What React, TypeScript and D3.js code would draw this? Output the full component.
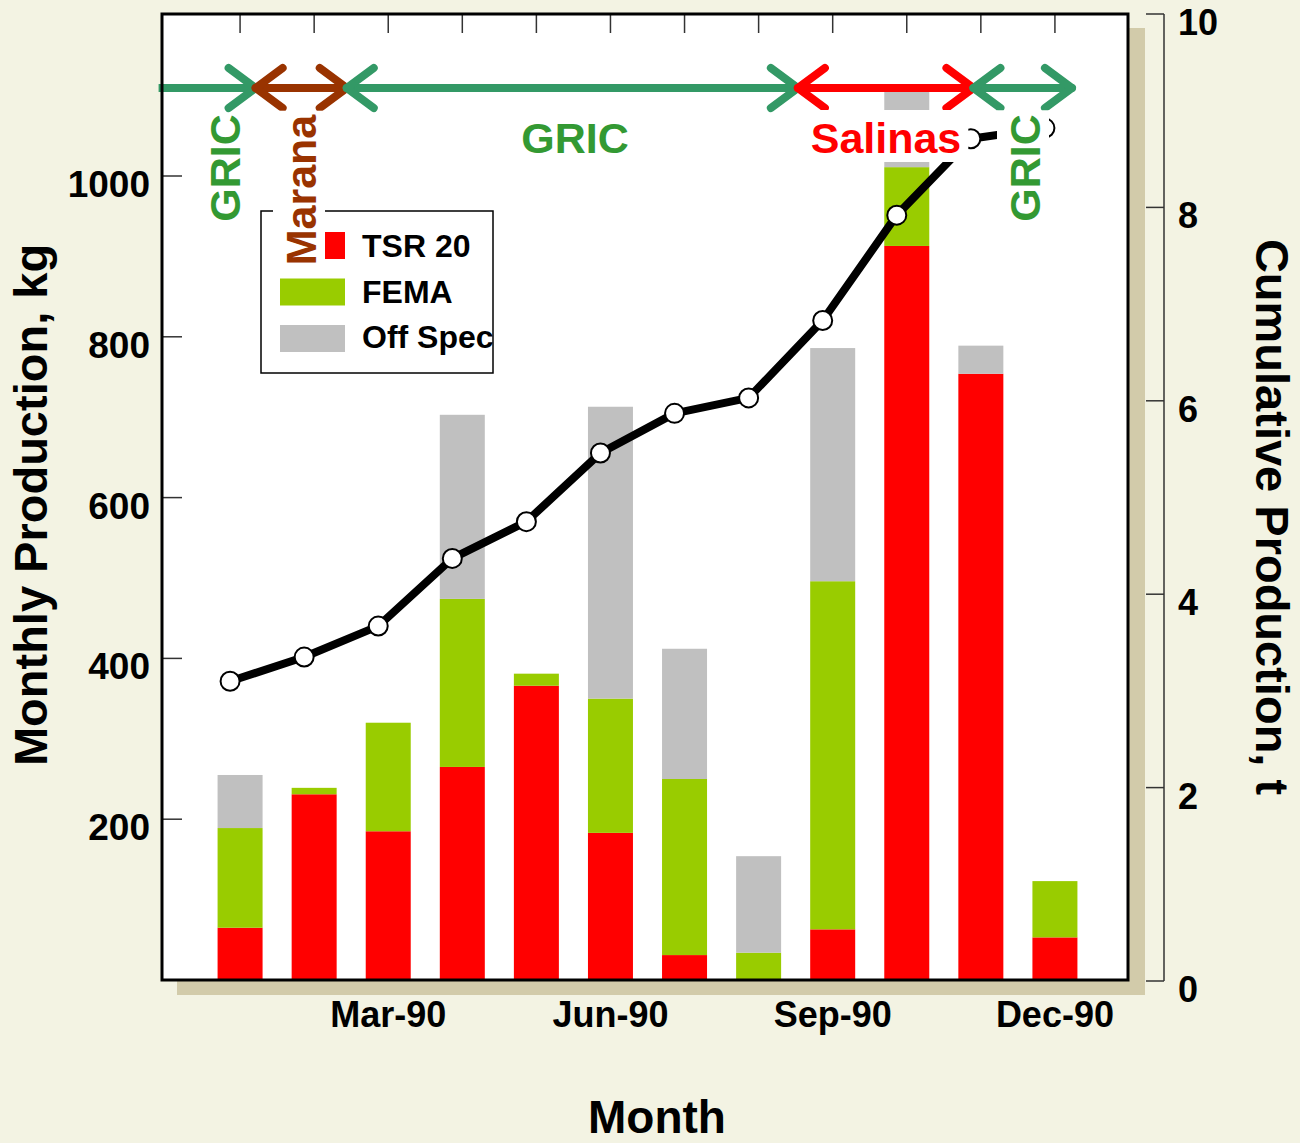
import React, { useEffect, useRef } from "react";
import * as d3 from "d3";

const months = ["Jan-90","Feb-90","Mar-90","Apr-90","May-90","Jun-90","Jul-90","Aug-90","Sep-90","Oct-90","Nov-90","Dec-90"];
const shownMonthLabels = ["Mar-90","Jun-90","Sep-90","Dec-90"];
const tsr20 = [65, 231, 185, 265, 366, 183, 31, 0, 63, 913, 754, 53];
const fema = [124, 8, 135, 209, 15, 167, 219, 34, 433, 98, 0, 70];
const offSpec = [66, 0, 0, 229, 0, 363, 162, 120, 290, 94, 35, 0];
const cumulative = [3.10, 3.35, 3.67, 4.37, 4.75, 5.46, 5.87, 6.03, 6.83, 7.92, 8.71, 8.82];
const leftTicks = [200, 400, 600, 800, 1000];
const rightTicks = [0, 2, 4, 6, 8, 10];
const seriesNames = ["TSR 20", "FEMA", "Off Spec"];
const seriesColors = ["#ff0000", "#99cc00", "#c0c0c0"];
// location periods along the month axis (month units)
const periodNames = ["GRIC", "Marana", "GRIC", "Salinas", "GRIC"];
const periodStart = [-0.1, 1.21, 2.44, 8.53, 10.9];
const periodEnd = [1.21, 2.44, 8.53, 10.9, 12.23];
const periodColors = ["#339966", "#993300", "#339966", "#ff0000", "#339966"];
const periodTextColors = ["#339933", "#993300", "#339933", "#ff0000", "#339933"];

const W = 1300, H = 1143;
const FONT = "'Liberation Sans', Arial, Helvetica, sans-serif";

export default function App() {
  const ref = useRef<SVGSVGElement | null>(null);
  useEffect(() => {
    document.body.style.margin = "0";
    const svg = d3.select(ref.current);
    svg.selectAll("*").remove();

    const plotL = 162, plotR = 1128, plotT = 14, plotB = 980;
    const x = d3.scaleLinear().domain([0, 13]).range([166, 1129]);
    const yL = d3.scaleLinear().domain([0, 1000]).range([980, 176]);
    const yR = d3.scaleLinear().domain([0, 10]).range([981, 14]);

    svg.append("rect").attr("width", W).attr("height", H).attr("fill", "#f3f3e3");
    // shadow
    svg.append("rect").attr("x", plotL + 15).attr("y", plotT + 14)
      .attr("width", plotR - plotL + 2).attr("height", plotB - plotT + 1).attr("fill", "#d2cbaa");
    svg.append("rect").attr("x", plotL).attr("y", plotT)
      .attr("width", plotR - plotL).attr("height", plotB - plotT).attr("fill", "#ffffff");

    // stacked bars
    const rows = months.map((m, i) => ({ m, i, v: [tsr20[i], fema[i], offSpec[i]] }));
    const bw = 45;
    rows.forEach(r => {
      let base = 0;
      r.v.forEach((val, k) => {
        if (val > 0) {
          svg.append("rect")
            .attr("x", x(r.i + 1) - bw / 2)
            .attr("y", yL(base + val))
            .attr("width", bw)
            .attr("height", yL(base) - yL(base + val))
            .attr("fill", seriesColors[k]);
        }
        base += val;
      });
    });

    // top ticks
    months.forEach((m, i) => {
      svg.append("line").attr("x1", x(i + 1)).attr("x2", x(i + 1))
        .attr("y1", plotT).attr("y2", plotT + 19).attr("stroke", "#333").attr("stroke-width", 1.5);
    });
    // left ticks
    leftTicks.forEach(t => {
      svg.append("line").attr("x1", plotL).attr("x2", plotL + 20)
        .attr("y1", yL(t)).attr("y2", yL(t)).attr("stroke", "#333").attr("stroke-width", 1.5);
      svg.append("text").attr("x", 150).attr("y", yL(t) + 21).attr("text-anchor", "end")
        .attr("font-family", FONT).attr("font-weight", "bold").attr("font-size", 37)
        .attr("fill", "#000").text(String(t));
    });

    // cumulative line
    const lx = (i: number) => x(i + 1) - 10;
    const line = d3.line<number>().x((d, i) => lx(i)).y(d => yR(d));
    svg.append("path").attr("d", line(cumulative)!).attr("fill", "none")
      .attr("stroke", "#000").attr("stroke-width", 8).attr("stroke-linejoin", "round");
    cumulative.forEach((c, i) => {
      svg.append("circle").attr("cx", lx(i)).attr("cy", yR(c)).attr("r", 9.5)
        .attr("fill", "#fff").attr("stroke", "#000").attr("stroke-width", 2);
    });

    // period arrows
    const ay = 88, adx = 27, ady = 20;
    periodNames.forEach((p, k) => {
      const x0 = x(periodStart[k]), x1 = x(periodEnd[k]);
      const g = svg.append("g").attr("stroke", periodColors[k]).attr("stroke-width", 8)
        .attr("stroke-linecap", "round").attr("stroke-linejoin", "round").attr("fill", "none");
      g.append("line").attr("x1", x0).attr("x2", x1).attr("y1", ay).attr("y2", ay)
        .attr("stroke-linecap", k === 0 ? "butt" : "round");
      g.append("path").attr("d", `M${x1 - adx},${ay - ady}L${x1},${ay}L${x1 - adx},${ay + ady}`);
      if (k > 0) g.append("path").attr("d", `M${x0 + adx},${ay - ady}L${x0},${ay}L${x0 + adx},${ay + ady}`);
    });

    // legend
    const lg = svg.append("g");
    lg.append("rect").attr("x", 261).attr("y", 211).attr("width", 232).attr("height", 162)
      .attr("fill", "#fff").attr("stroke", "#000").attr("stroke-width", 1.5);
    seriesNames.forEach((s, k) => {
      lg.append("rect").attr("x", 280).attr("y", 232 + k * 46.5).attr("width", 65).attr("height", 27)
        .attr("fill", seriesColors[k]);
      lg.append("text").attr("x", 362).attr("y", 257 + k * 45.5)
        .attr("font-family", FONT).attr("font-weight", "bold").attr("font-size", 32)
        .attr("fill", "#000").text(s);
    });

    // period labels with white boxes
    const labelSpec = [
      { k: 0, rot: true, bx: 240, cy: 168, box: false },
      { k: 1, rot: true, bx: 316, cy: 190, box: true },
      { k: 2, rot: false, cx: 575, by: 153, box: false },
      { k: 3, rot: false, cx: 886, by: 153, box: true },
      { k: 4, rot: true, bx: 1040, cy: 168, box: true },
    ];
    labelSpec.forEach((L: any) => {
      const g = svg.append("g");
      const t = g.append("text").attr("font-family", FONT).attr("font-weight", "bold")
        .attr("font-size", 43).attr("fill", periodTextColors[L.k]).attr("text-anchor", "middle")
        .text(periodNames[L.k]);
      const len = (t.node() as SVGTextElement).getComputedTextLength();
      if (L.rot) {
        t.attr("transform", `translate(${L.bx},${L.cy}) rotate(-90)`);
        if (L.box) {
          g.insert("rect", "text").attr("x", L.bx - 43).attr("y", L.cy - len / 2 - 4)
            .attr("width", 52).attr("height", len + 8).attr("fill", "#fff");
        }
      } else {
        t.attr("x", L.cx).attr("y", L.by);
        if (L.box) {
          g.insert("rect", "text").attr("x", L.cx - len / 2 - 7).attr("y", L.by - 43)
            .attr("width", len + 14).attr("height", 52).attr("fill", "#fff");
        }
      }
    });

    // frame
    svg.append("rect").attr("x", plotL).attr("y", plotT)
      .attr("width", plotR - plotL).attr("height", plotB - plotT)
      .attr("fill", "none").attr("stroke", "#000").attr("stroke-width", 3);

    // right axis
    svg.append("line").attr("x1", 1164).attr("x2", 1164).attr("y1", yR(10)).attr("y2", yR(0))
      .attr("stroke", "#333").attr("stroke-width", 1.5);
    rightTicks.forEach(t => {
      svg.append("line").attr("x1", 1146).attr("x2", 1164).attr("y1", yR(t)).attr("y2", yR(t))
        .attr("stroke", "#333").attr("stroke-width", 1.5);
      svg.append("text").attr("x", 1178).attr("y", yR(t) + 21)
        .attr("font-family", FONT).attr("font-weight", "bold").attr("font-size", 36)
        .attr("fill", "#000").text(String(t));
    });

    // x labels
    months.forEach((m, i) => {
      if (shownMonthLabels.includes(m)) {
        svg.append("text").attr("x", x(i + 1)).attr("y", 1027).attr("text-anchor", "middle")
          .attr("font-family", FONT).attr("font-weight", "bold").attr("font-size", 36)
          .attr("fill", "#000").text(m);
      }
    });

    // axis titles
    svg.append("text").attr("transform", `translate(47,505) rotate(-90)`).attr("text-anchor", "middle")
      .attr("font-family", FONT).attr("font-weight", "bold").attr("font-size", 47)
      .attr("fill", "#000").text("Monthly Production, kg");
    svg.append("text").attr("transform", `translate(1256,517) rotate(90)`).attr("text-anchor", "middle")
      .attr("font-family", FONT).attr("font-weight", "bold").attr("font-size", 47)
      .attr("fill", "#000").text("Cumulative Production, t");
    svg.append("text").attr("x", 657).attr("y", 1133).attr("text-anchor", "middle")
      .attr("font-family", FONT).attr("font-weight", "bold").attr("font-size", 46)
      .attr("fill", "#000").text("Month");
  }, []);
  return <svg ref={ref} width={W} height={H} style={{ display: "block" }} />;
}
